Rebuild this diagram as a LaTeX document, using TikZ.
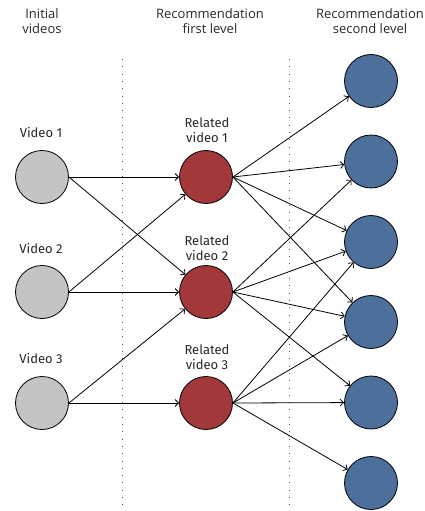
\documentclass[tikz,border=0pt]{standalone}
\usepackage{fontspec}
\setmainfont{Fira Sans}
\newfontfamily\headfont{Open Sans}
\usetikzlibrary{arrows.meta}

\definecolor{initgray}{RGB}{196,196,196}
\definecolor{firstred}{RGB}{163,56,58}
\definecolor{secondblue}{RGB}{76,111,155}
\definecolor{labelgray}{RGB}{40,40,40}

\begin{document}
\begin{tikzpicture}[x=1pt,y=1pt,yscale=-1,xscale=1,
  vid/.style={circle,draw=black,line width=0.8pt,minimum size=53pt,inner sep=0pt},
  link/.style={line width=0.8pt,-{Straight Barb[length=3.5pt,width=7pt]}},
  colhead/.style={align=center,text=labelgray,font=\headfont\fontsize{13}{15}\selectfont},
  vidlabel/.style={align=center,text=labelgray,font=\fontsize{13}{15.5}\selectfont},
  sep/.style={black!70,line width=1pt,dash pattern=on 1pt off 6.3pt}]
\useasboundingbox (0,0) rectangle (425,511);
%column separators
\draw [sep] (122,59) -- (122,511) ;
\draw [sep] (289,59) -- (289,511) ;
% Text Node
\node [colhead] (hinit) at (42,21) {Initial\\videos};
\node [colhead] (hfirst) at (210,21) {Recommendation\\first level};
\node [colhead] (hsecond) at (370,21) {Recommendation\\second level};
%Shape: Circle (initial videos)
\node [vid,fill=initgray] (v1) at (42,177) {};
\node [vid,fill=initgray] (v2) at (42,292) {};
\node [vid,fill=initgray] (v3) at (42,403) {};
%Shape: Circle (first level)
\node [vid,fill=firstred] (r1) at (206,177) {};
\node [vid,fill=firstred] (r2) at (206,292) {};
\node [vid,fill=firstred] (r3) at (206,403) {};
%Shape: Circle (second level)
\node [vid,fill=secondblue] (b1) at (371,81) {};
\node [vid,fill=secondblue] (b2) at (371,161.5) {};
\node [vid,fill=secondblue] (b3) at (371,242) {};
\node [vid,fill=secondblue] (b4) at (371,322) {};
\node [vid,fill=secondblue] (b5) at (371,402.5) {};
\node [vid,fill=secondblue] (b6) at (371,483) {};
% Text Node
\node [vidlabel] (lv1) at (41,133) {Video 1};
\node [vidlabel] (lv2) at (41,249) {Video 2};
\node [vidlabel] (lv3) at (41,359) {Video 3};
\node [vidlabel] (lr1) at (207,130) {Related\\video 1};
\node [vidlabel] (lr2) at (207,248) {Related\\video 2};
\node [vidlabel] (lr3) at (207,357) {Related\\video 3};
%Straight Lines
\draw [link] (v1.east) -- (r1) ;
\draw [link] (v1.east) -- (r2) ;
\draw [link] (v2.east) -- (r1) ;
\draw [link] (v2.east) -- (r2) ;
\draw [link] (v3.east) -- (r2) ;
\draw [link] (v3.east) -- (r3) ;
\foreach \b in {b1,b2,b3,b4} \draw [link] (r1.east) -- (\b) ;
\foreach \b in {b2,b3,b4,b5} \draw [link] (r2.east) -- (\b) ;
\foreach \b in {b3,b4,b5,b6} \draw [link] (r3.east) -- (\b) ;
\end{tikzpicture}
\end{document}
